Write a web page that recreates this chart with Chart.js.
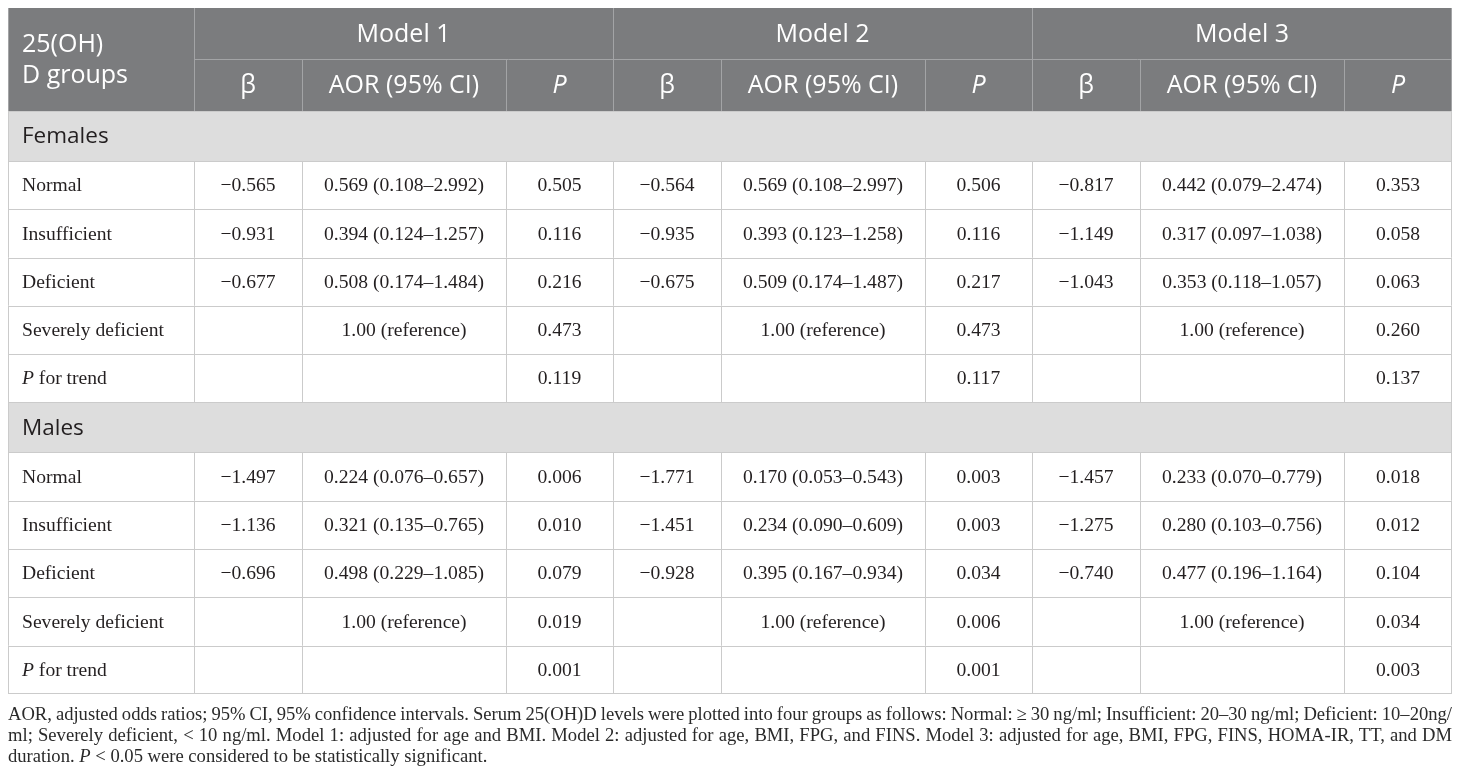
<!DOCTYPE html>
<html>
<head>
<meta charset="utf-8">
<script src="https://cdn.jsdelivr.net/npm/chart.js@4.4.1/dist/chart.umd.min.js"></script>
<style>
  html, body { margin: 0; padding: 0; background: #ffffff; }
  #wrap { position: relative; width: 1460px; height: 780px; overflow: hidden; }
  #chart { position: absolute; left: 0; top: 0; }
  #note { position: absolute; left: 8px; top: 703px; width: 1444px;
          font-family: 'Liberation Serif', 'Times New Roman', serif; font-size: 18.6px;
          line-height: 21px; color: #2a2a2a; }
  #note .ln { display: block; white-space: nowrap; }
  #note .ln span { display: inline-block; white-space: nowrap; }
</style>
</head>
<body>
<div id="wrap">
  <canvas id="chart" width="1460" height="780"></canvas>
  <div id="note">
    <div class="ln"><span class="just">AOR, adjusted odds ratios; 95% CI, 95% confidence intervals. Serum 25(OH)D levels were plotted into four groups as follows: Normal: ≥ 30 ng/ml; Insufficient: 20–30 ng/ml; Deficient: 10–20ng/</span></div>
    <div class="ln"><span class="just">ml; Severely deficient, &lt; 10 ng/ml. Model 1: adjusted for age and BMI. Model 2: adjusted for age, BMI, FPG, and FINS. Model 3: adjusted for age, BMI, FPG, FINS, HOMA-IR, TT, and DM</span></div>
    <div class="ln"><span>duration. <i>P</i> &lt; 0.05 were considered to be statistically significant.</span></div>
  </div>
</div>
<script>
// ---------------- DATA ----------------
const firstHeader = ['25(OH)', 'D groups'];
const models = ['Model 1', 'Model 2', 'Model 3'];
const statHeaders = ['β', 'AOR (95% CI)', 'P'];
const sections = ['Females', 'Males'];
const groups = ['Normal', 'Insufficient', 'Deficient', 'Severely deficient', 'P for trend'];
const referenceLabel = 'reference';

// Each array: [Model 1, Model 2, Model 3], each with one entry per group
const femalesBeta = [
  [-0.565, -0.931, -0.677, null, null],
  [-0.564, -0.935, -0.675, null, null],
  [-0.817, -1.149, -1.043, null, null]
];
const femalesAOR = [
  [0.569, 0.394, 0.508, 1.00, null],
  [0.569, 0.393, 0.509, 1.00, null],
  [0.442, 0.317, 0.353, 1.00, null]
];
const femalesLower = [
  [0.108, 0.124, 0.174, null, null],
  [0.108, 0.123, 0.174, null, null],
  [0.079, 0.097, 0.118, null, null]
];
const femalesUpper = [
  [2.992, 1.257, 1.484, null, null],
  [2.997, 1.258, 1.487, null, null],
  [2.474, 1.038, 1.057, null, null]
];
const femalesP = [
  [0.505, 0.116, 0.216, 0.473, 0.119],
  [0.506, 0.116, 0.217, 0.473, 0.117],
  [0.353, 0.058, 0.063, 0.260, 0.137]
];

const malesBeta = [
  [-1.497, -1.136, -0.696, null, null],
  [-1.771, -1.451, -0.928, null, null],
  [-1.457, -1.275, -0.740, null, null]
];
const malesAOR = [
  [0.224, 0.321, 0.498, 1.00, null],
  [0.170, 0.234, 0.395, 1.00, null],
  [0.233, 0.280, 0.477, 1.00, null]
];
const malesLower = [
  [0.076, 0.135, 0.229, null, null],
  [0.053, 0.090, 0.167, null, null],
  [0.070, 0.103, 0.196, null, null]
];
const malesUpper = [
  [0.657, 0.765, 1.085, null, null],
  [0.543, 0.609, 0.934, null, null],
  [0.779, 0.756, 1.164, null, null]
];
const malesP = [
  [0.006, 0.010, 0.079, 0.019, 0.001],
  [0.003, 0.003, 0.034, 0.006, 0.001],
  [0.018, 0.012, 0.104, 0.034, 0.003]
];

// ---------------- LAYOUT (scale units) ----------------
const colEdges = [0, 186, 294, 498, 605, 713, 917, 1024, 1132, 1336, 1444];
const rowEdges = [0, 51, 103, 153, 201.5, 249.7, 297.5, 346, 394.3, 444.3, 492.6, 541, 589.3, 637.7, 686];

const sectionData = [
  { beta: femalesBeta, aor: femalesAOR, lo: femalesLower, hi: femalesUpper, p: femalesP },
  { beta: malesBeta, aor: malesAOR, lo: malesLower, hi: malesUpper, p: malesP }
];

// ---------------- FORMATTERS ----------------
const fmt3 = v => (v < 0 ? '\u2212' : '') + Math.abs(v).toFixed(3);
function aorText(a, lo, hi) {
  if (a == null) return '';
  if (lo == null || hi == null) return a.toFixed(2) + ' (' + referenceLabel + ')';
  return fmt3(a) + ' (' + fmt3(lo) + '\u2013' + fmt3(hi) + ')';
}

// ---------------- STYLE ----------------
const C = {
  head: '#7b7c7e', headLine: '#a3a4a6', section: '#dddddd', grid: '#cbcbcb',
  text: '#231f20', headText: '#ffffff'
};
const SANS = "'Open Sans', 'Noto Sans', sans-serif";
const SERIF = "'Liberation Serif', 'Times New Roman', serif";
const HEAD_FONT = '400 25px ' + SANS;
const HEAD_FONT_IT = 'italic 400 25px ' + SANS;
const SECTION_FONT = '400 22.5px ' + SANS;
const BODY_FONT = '400 19.6px ' + SERIF;
const BODY_FONT_IT = 'italic 400 19.6px ' + SERIF;

const tablePlugin = {
  id: 'tableDraw',
  afterDraw(chart) {
    const ctx = chart.ctx;
    const xs = chart.scales.x, ys = chart.scales.y;
    const X = i => xs.getPixelForValue(colEdges[i]);
    const Y = i => ys.getPixelForValue(rowEdges[i]);
    const crisp = v => Math.round(v) + 0.5;
    const nCols = colEdges.length - 1;
    const nRows = rowEdges.length - 1;
    ctx.save();

    // header background
    ctx.fillStyle = C.head;
    ctx.fillRect(X(0), Y(0), X(nCols) - X(0), Y(2) - Y(0));
    // section backgrounds
    const sectionRows = [2, 8];
    ctx.fillStyle = C.section;
    sectionRows.forEach(r => ctx.fillRect(X(0), Y(r), X(nCols) - X(0), Y(r + 1) - Y(r)));

    // header lines
    ctx.lineWidth = 1;
    ctx.strokeStyle = C.headLine;
    ctx.beginPath();
    ctx.moveTo(X(1), crisp(Y(1))); ctx.lineTo(X(nCols), crisp(Y(1)));
    [1, 4, 7].forEach(c => { ctx.moveTo(crisp(X(c)), Y(0)); ctx.lineTo(crisp(X(c)), Y(2)); });
    [2, 3, 5, 6, 8, 9].forEach(c => { ctx.moveTo(crisp(X(c)), Y(1)); ctx.lineTo(crisp(X(c)), Y(2)); });
    ctx.stroke();

    // body grid
    ctx.strokeStyle = C.grid;
    ctx.beginPath();
    for (let r = 2; r <= nRows; r++) {
      const y = r === nRows ? Math.round(Y(r)) - 0.5 : crisp(Y(r));
      ctx.moveTo(X(0), y); ctx.lineTo(X(nCols), y);
    }
    for (let r = 2; r < nRows; r++) {
      const isSection = sectionRows.includes(r);
      const cols = isSection ? [0, nCols] : colEdges.map((_, i) => i);
      cols.forEach(c => {
        const x = c === nCols ? Math.round(X(c)) - 0.5 : crisp(X(c));
        ctx.moveTo(x, Y(r)); ctx.lineTo(x, Y(r + 1));
      });
    }
    ctx.stroke();
    // outer edges of header
    ctx.strokeStyle = C.headLine;
    ctx.beginPath();
    ctx.moveTo(crisp(X(0)), Y(0)); ctx.lineTo(crisp(X(0)), Y(2));
    ctx.moveTo(Math.round(X(nCols)) - 0.5, Y(0)); ctx.lineTo(Math.round(X(nCols)) - 0.5, Y(2));
    ctx.stroke();

    const midX = (a, b) => (X(a) + X(b)) / 2;
    const midY = r => (Y(r) + Y(r + 1)) / 2;
    const padL = 14;

    // header text
    ctx.fillStyle = C.headText;
    ctx.textBaseline = 'middle';
    ctx.font = HEAD_FONT;
    ctx.textAlign = 'left';
    ctx.fillText(firstHeader[0], X(0) + padL, ys.getPixelForValue(37));
    ctx.fillText(firstHeader[1], X(0) + padL, ys.getPixelForValue(68));
    ctx.textAlign = 'center';
    models.forEach((m, k) => ctx.fillText(m, midX(1 + 3 * k, 4 + 3 * k), midY(0) + 1));
    models.forEach((m, k) => {
      statHeaders.forEach((s, j) => {
        const c = 1 + 3 * k + j;
        ctx.font = s === 'P' ? HEAD_FONT_IT : HEAD_FONT;
        ctx.fillText(s, midX(c, c + 1), midY(1) + 1);
      });
    });

    // section labels
    ctx.fillStyle = C.text;
    ctx.textAlign = 'left';
    ctx.font = SECTION_FONT;
    sections.forEach((s, si) => ctx.fillText(s, X(0) + padL, midY(sectionRows[si]) + 1));

    // body
    sectionData.forEach((d, si) => {
      groups.forEach((g, gi) => {
        const r = sectionRows[si] + 1 + gi;
        const y = midY(r) + 1;
        ctx.textAlign = 'left';
        if (g.startsWith('P ')) {
          ctx.font = BODY_FONT_IT;
          ctx.fillText('P', X(0) + padL, y);
          const w = ctx.measureText('P').width;
          ctx.font = BODY_FONT;
          ctx.fillText(g.slice(1), X(0) + padL + w, y);
        } else {
          ctx.font = BODY_FONT;
          ctx.fillText(g, X(0) + padL, y);
        }
        ctx.textAlign = 'center';
        ctx.font = BODY_FONT;
        for (let m = 0; m < 3; m++) {
          const c = 1 + 3 * m;
          const b = d.beta[m][gi];
          if (b != null) ctx.fillText(fmt3(b), midX(c, c + 1), y);
          const at = aorText(d.aor[m][gi], d.lo[m][gi], d.hi[m][gi]);
          if (at) ctx.fillText(at, midX(c + 1, c + 2), y);
          const p = d.p[m][gi];
          if (p != null) ctx.fillText(p.toFixed(3), midX(c + 2, c + 3), y);
        }
      });
    });
    ctx.restore();
  }
};

new Chart(document.getElementById('chart'), {
  type: 'scatter',
  data: { datasets: [] },
  options: {
    responsive: false,
    animation: false,
    devicePixelRatio: 1,
    layout: { padding: { left: 8, right: 8, top: 8, bottom: 86 } },
    plugins: { legend: { display: false }, tooltip: { enabled: false }, title: { display: false } },
    scales: {
      x: { type: 'linear', display: false, min: colEdges[0], max: colEdges[colEdges.length - 1] },
      y: { type: 'linear', display: false, reverse: true, min: rowEdges[0], max: rowEdges[rowEdges.length - 1] }
    }
  },
  plugins: [tablePlugin]
});

// justify the first two footnote lines to the table width
document.querySelectorAll('#note .just').forEach(sp => {
  const target = 1444;
  const w = sp.getBoundingClientRect().width;
  const spaces = (sp.textContent.match(/ /g) || []).length;
  if (spaces) sp.style.wordSpacing = ((target - w) / spaces) + 'px';
});
</script>
</body>
</html>
